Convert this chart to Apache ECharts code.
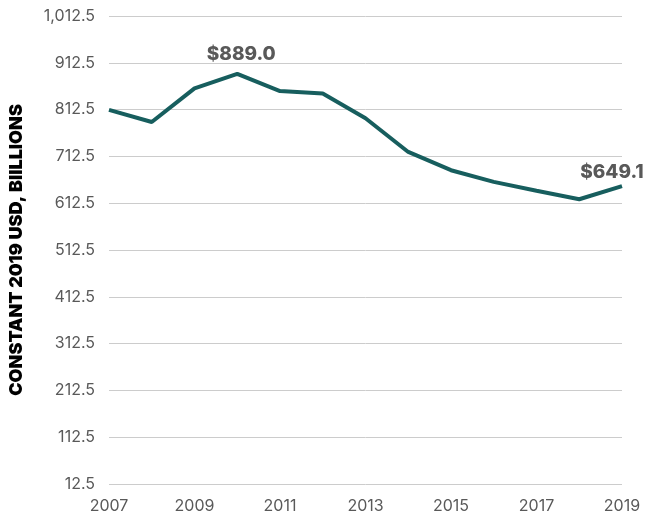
<!DOCTYPE html>
<html>
<head>
<meta charset="utf-8">
<script src="https://cdn.jsdelivr.net/npm/echarts@6/dist/echarts.min.js"></script>
<style>
  html, body { margin: 0; padding: 0; background: #fff; }
  #chart { width: 660px; height: 517px; }
</style>
</head>
<body>
<div id="chart"></div>
<script>
// 国防开支（2019 年不变价美元，十亿）
const years = ["2007", "2008", "2009", "2010", "2011", "2012", "2013", "2014", "2015", "2016", "2017", "2018", "2019"];
const spending = [812, 786, 858, 889.0, 852, 847, 794, 722, 683, 658, 639, 621, 649.1];
// 标注峰值和最新值：数据下标 -> 标签偏移
const callouts = { 3: [4, -3], 12: [-10, 3] };

const axisGray = "#595959";
const teal = "#175e5e";

const seriesData = spending.map((v, i) => {
  if (!callouts[i]) return v;
  return {
    value: v,
    label: {
      show: true,
      position: "top",
      distance: 6,
      offset: callouts[i],
      color: axisGray,
      fontSize: 19,
      fontWeight: 800,
      formatter: (p) => "$" + p.value.toFixed(1)
    }
  };
});

const chart = echarts.init(document.getElementById("chart"));
chart.setOption({
  backgroundColor: "#fff",
  animation: false,
  textStyle: { fontFamily: "Inter, 'Noto Sans', sans-serif" },
  grid: { left: 103, right: 38, top: 16, bottom: 33 },
  xAxis: {
    type: "category",
    data: years,
    boundaryGap: false,
    axisLine: { show: false },
    axisTick: { show: false },
    axisLabel: { interval: 1, color: axisGray, fontSize: 16, margin: 14 }
  },
  yAxis: {
    type: "value",
    min: 12.5,
    max: 1012.5,
    interval: 100,
    name: "CONSTANT 2019 USD, BIILLIONS",
    nameLocation: "middle",
    nameGap: 83,
    nameTextStyle: { color: "#000", fontSize: 18, fontWeight: 900 },
    axisLine: { show: false },
    axisTick: { show: false },
    splitLine: { lineStyle: { color: "#cccccc", width: 1 } },
    axisLabel: {
      color: axisGray,
      fontSize: 16,
      margin: 14,
      formatter: (v) => v.toLocaleString("en-US", { minimumFractionDigits: 1, maximumFractionDigits: 1 })
    }
  },
  series: [{
    type: "line",
    data: seriesData,
    symbol: "circle",
    symbolSize: 2,
    showSymbol: true,
    itemStyle: { color: "rgba(0,0,0,0)", borderWidth: 0 },
    lineStyle: { color: teal, width: 4 },
    label: { show: false }
  }]
});
</script>
</body>
</html>
